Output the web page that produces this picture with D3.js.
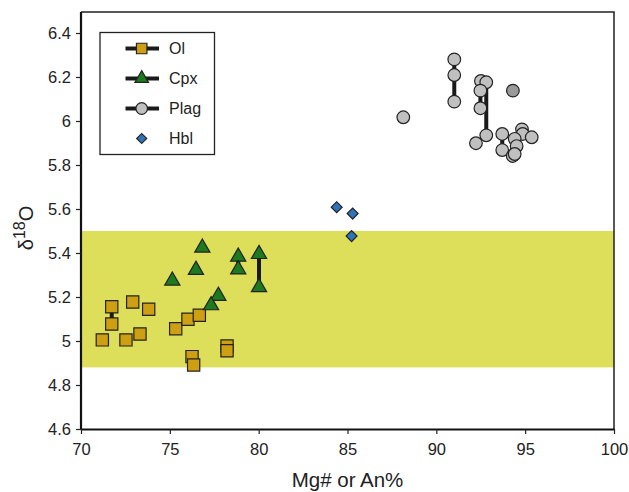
<!DOCTYPE html>
<html>
<head>
<meta charset="utf-8">
<script src="https://cdn.jsdelivr.net/npm/d3@7"></script>
<style>
  body { margin: 0; background: #fff; }
  svg text { font-family: "Liberation Sans", Arial, sans-serif; fill: #222; }
</style>
</head>
<body>
<div id="chart"></div>
<script>
// data: [Mg# or An%, d18O]
var olivine = [
  [71.2, 5.005], [71.73, 5.156], [71.73, 5.077], [72.53, 5.005], [72.91, 5.177],
  [73.32, 5.032], [73.81, 5.144], [75.33, 5.056], [76.02, 5.099], [76.66, 5.117],
  [76.25, 4.929], [76.34, 4.891], [78.22, 4.977], [78.22, 4.956]
];
var cpx = [
  [75.14, 5.274], [76.83, 5.424], [76.47, 5.323], [78.85, 5.383], [78.85, 5.325],
  [80.02, 5.395], [80.02, 5.244], [77.73, 5.205], [77.32, 5.162]
];
var plag = [
  [88.14, 6.017], [91.01, 6.28], [91.01, 6.209], [91.01, 6.088], [92.51, 6.182],
  [92.81, 6.176], [92.48, 6.138], [92.48, 6.058], [92.81, 5.935], [92.23, 5.899],
  [93.71, 5.941], [93.71, 5.868], [94.82, 5.962], [94.86, 5.941], [95.37, 5.926],
  [94.41, 5.919], [94.52, 5.886], [94.3, 5.841], [94.41, 5.85]
];
var plagDark = [[94.31, 6.138]];
var hbl = [[84.39, 5.608], [85.29, 5.579], [85.23, 5.477]];

// tie lines between replicate analyses: [x, yTop, yBottom]
var olivineTies = [[71.73, 5.156, 5.077], [78.22, 4.977, 4.956]];
var cpxTies = [[78.85, 5.383, 5.325], [80.02, 5.395, 5.244]];
var plagTies = [[91.01, 6.28, 6.088], [92.48, 6.138, 6.058], [92.81, 6.176, 5.935],
                [93.71, 5.941, 5.868], [94.41, 5.919, 5.85]];

var mantleBand = [4.88, 5.5];
var xTicks = [70, 75, 80, 85, 90, 95, 100];
var yTicks = [4.6, 4.8, 5, 5.2, 5.4, 5.6, 5.8, 6, 6.2, 6.4];
var legendItems = ["Ol", "Cpx", "Plag", "Hbl"];

var width = 629, height = 492;
var x = d3.scaleLinear().domain([70, 100]).range([81, 614]);
var y = d3.scaleLinear().domain([4.6, 6.4]).range([429, 33]);

var svg = d3.select("#chart").append("svg")
  .attr("width", width).attr("height", height);

var colors = { Ol: "#cf9f12", Cpx: "#1e7a1e", Plag: "#c0c0c0", Hbl: "#2f73b8" };

// band of mantle values
svg.append("rect")
  .attr("x", x(70)).attr("width", x(100) - x(70))
  .attr("y", y(mantleBand[1])).attr("height", y(mantleBand[0]) - y(mantleBand[1]))
  .attr("fill", "#dddf5b");

// frame (top and right)
svg.append("path")
  .attr("d", "M" + x(70) + "," + y(6.495) + "H" + x(100) + "V" + y(4.6))
  .attr("fill", "none").attr("stroke", "#222").attr("stroke-width", 1.5);

// axes
var xAxis = svg.append("g")
  .attr("transform", "translate(0," + y(4.6) + ")")
  .call(d3.axisBottom(x).tickValues(xTicks).tickSize(5).tickSizeOuter(0).tickFormat(d3.format("d")));
var yAxis = svg.append("g")
  .attr("transform", "translate(" + x(70) + ",0)")
  .call(d3.axisLeft(y).tickValues(yTicks).tickSize(5).tickSizeOuter(0).tickFormat(function (d) { return d3.format("")(+d.toFixed(1)); }));
yAxis.select(".domain").attr("d", "M0," + y(6.495) + "V" + y(4.6));

[xAxis, yAxis].forEach(function (g) {
  g.select(".domain").attr("stroke", "#111").attr("stroke-width", 2.2);
  g.selectAll(".tick line").attr("stroke", "#222").attr("stroke-width", 1.2);
  g.selectAll(".tick text").attr("font-size", 16.5).attr("fill", "#222")
    .attr("font-family", "Liberation Sans, Arial, sans-serif");
});
xAxis.selectAll(".tick text").attr("y", 26).attr("dy", 0);
yAxis.selectAll(".tick text").attr("x", -10);

// axis titles
svg.append("text")
  .attr("x", (x(70) + x(100)) / 2).attr("y", 487)
  .attr("text-anchor", "middle").attr("font-size", 20.5)
  .text("Mg# or An%");

var yTitle = svg.append("text")
  .attr("transform", "translate(33,228) rotate(-90)")
  .attr("text-anchor", "middle").attr("font-size", 20);
yTitle.append("tspan").text("\u03b4");
yTitle.append("tspan").attr("dy", -8).attr("font-size", 16).text("18");
yTitle.append("tspan").attr("dy", 8).text("O");

// tie lines
function drawTies(ties) {
  svg.append("g").selectAll("line")
    .data(ties).enter().append("line")
    .attr("x1", function (d) { return x(d[0]); })
    .attr("x2", function (d) { return x(d[0]); })
    .attr("y1", function (d) { return y(d[1]); })
    .attr("y2", function (d) { return y(d[2]); })
    .attr("stroke", "#1a1a1a").attr("stroke-width", 4);
}
drawTies(olivineTies);
drawTies(cpxTies);
drawTies(plagTies);

// markers (Hbl is a square turned 45 degrees)
var sym = {
  Ol: d3.symbol().type(d3.symbolSquare).size(150),
  Cpx: d3.symbol().type(d3.symbolTriangle).size(100),
  Plag: d3.symbol().type(d3.symbolCircle).size(125),
  Hbl: d3.symbol().type(d3.symbolSquare).size(60)
};
var rot = { Ol: 0, Cpx: 0, Plag: 0, Hbl: 45 };

function drawPoints(data, key, fill) {
  svg.append("g").selectAll("path")
    .data(data).enter().append("path")
    .attr("transform", function (d) { return "translate(" + x(d[0]) + "," + y(d[1]) + ") rotate(" + rot[key] + ")"; })
    .attr("d", sym[key])
    .attr("fill", fill || colors[key])
    .attr("stroke", "#222").attr("stroke-width", 1.2);
}
drawPoints(olivine, "Ol");
drawPoints(cpx, "Cpx");
drawPoints(plag, "Plag");
drawPoints(plagDark, "Plag", "#999");
drawPoints(hbl, "Hbl");

// legend
var legend = svg.append("g");
legend.append("rect")
  .attr("x", 100).attr("y", 32.5).attr("width", 114.5).attr("height", 122)
  .attr("fill", "#fff").attr("stroke", "#222").attr("stroke-width", 1.3);

var item = legend.selectAll("g.item")
  .data(legendItems).enter().append("g")
  .attr("class", "item")
  .attr("transform", function (d, i) { return "translate(0," + (48.5 + i * 30) + ")"; });

item.filter(function (d) { return d !== "Hbl"; })
  .append("line")
  .attr("x1", 125.5).attr("x2", 159)
  .attr("stroke", "#1a1a1a").attr("stroke-width", 4);

var legendSym = {
  Ol: d3.symbol().type(d3.symbolSquare).size(110),
  Cpx: d3.symbol().type(d3.symbolTriangle).size(80),
  Plag: d3.symbol().type(d3.symbolCircle).size(105),
  Hbl: d3.symbol().type(d3.symbolSquare).size(50)
};
item.append("path")
  .attr("transform", function (d) { return "translate(141.7,0) rotate(" + rot[d] + ")"; })
  .attr("d", function (d) { return legendSym[d](); })
  .attr("fill", function (d) { return colors[d]; })
  .attr("stroke", "#222").attr("stroke-width", 1.2);

item.append("text")
  .attr("x", 169).attr("dy", "0.36em")
  .attr("font-size", 16)
  .text(function (d) { return d; });
</script>
</body>
</html>
